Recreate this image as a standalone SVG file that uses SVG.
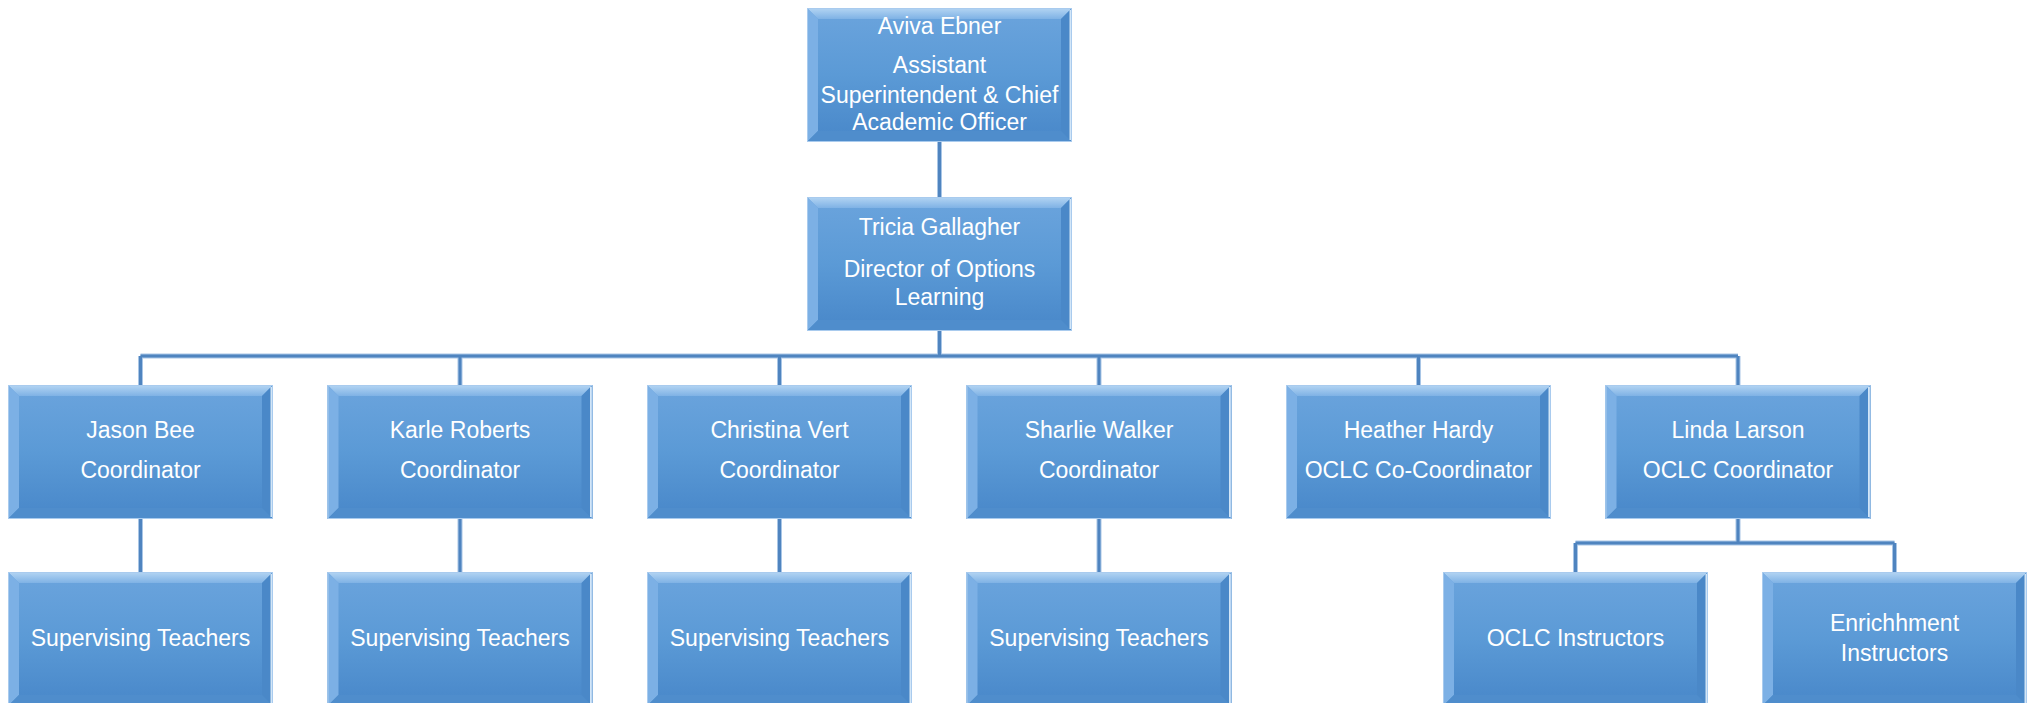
<svg xmlns="http://www.w3.org/2000/svg" xmlns:xlink="http://www.w3.org/1999/xlink" width="2034" height="703" viewBox="0 0 2034 703">
<style>
text{font-family:"Liberation Sans",Arial,sans-serif;font-size:23px;fill:#ffffff;text-anchor:middle}
.c1{stroke:#a9c6e6;stroke-width:5;fill:none}
.c2{stroke:#4f84bf;stroke-width:3;fill:none}
</style>
<defs>
<linearGradient id="body" x1="0" y1="0" x2="0" y2="1">
<stop offset="0" stop-color="#6ba4dd"/>
<stop offset="0.5" stop-color="#5b9ad6"/>
<stop offset="1" stop-color="#4887c9"/>
</linearGradient>
<linearGradient id="topb" x1="0" y1="0" x2="0" y2="1">
<stop offset="0" stop-color="#b4d5f3"/>
<stop offset="1" stop-color="#7fb2e5"/>
</linearGradient>
<g id="box">
<rect x="0" y="0" width="265" height="134" fill="url(#body)"/>
<polygon points="0,0 265,0 254,11 11,11" fill="url(#topb)"/>
<polygon points="0,0 11,11 11,123 0,134" fill="#7cb0e5"/>
<polygon points="265,0 265,134 254,123 254,11" fill="#4a88c8"/>
<polygon points="0,134 265,134 254,123 11,123" fill="#4f8dcc"/>
<line x1="263.5" y1="2" x2="263.5" y2="132" stroke="#d3e6f7" stroke-width="2"/>
<rect x="0.5" y="0.5" width="264" height="133" fill="none" stroke="#a9cbee" stroke-width="1"/>
</g>
</defs>
<rect width="2034" height="703" fill="#ffffff"/>
<g id="connectors">
<path class="c1" d="M939.5,142V197M939.5,328V356M140.5,356H1738M140.5,356V385M460,356V385M779.5,356V385M1099,356V385M1418.5,356V385M1738,356V385M140.5,516V572M460,516V572M779.5,516V572M1099,516V572M1738,516V543M1575.5,543H1894.5M1575.5,543V572M1894.5,543V572"/>
<path class="c2" d="M939.5,142V197M939.5,328V356M140.5,356H1738M140.5,356V385M460,356V385M779.5,356V385M1099,356V385M1418.5,356V385M1738,356V385M140.5,516V572M460,516V572M779.5,516V572M1099,516V572M1738,516V543M1575.5,543H1894.5M1575.5,543V572M1894.5,543V572"/>
</g>
<g id="aviva" transform="translate(807,8)">
<use xlink:href="#box"/>
<text x="132.5" y="26">Aviva Ebner</text>
<text x="132.5" y="65">Assistant</text>
<text x="132.5" y="95">Superintendent &amp; Chief</text>
<text x="132.5" y="122">Academic Officer</text>
</g>
<g id="tricia" transform="translate(807,197)">
<use xlink:href="#box"/>
<text x="132.5" y="38">Tricia Gallagher</text>
<text x="132.5" y="80">Director of Options</text>
<text x="132.5" y="108">Learning</text>
</g>
<g id="jason" transform="translate(8,385)">
<use xlink:href="#box"/>
<text x="132.5" y="53">Jason Bee</text>
<text x="132.5" y="93">Coordinator</text>
</g>
<g id="karle" transform="translate(327.5,385)">
<use xlink:href="#box"/>
<text x="132.5" y="53">Karle Roberts</text>
<text x="132.5" y="93">Coordinator</text>
</g>
<g id="christina" transform="translate(647,385)">
<use xlink:href="#box"/>
<text x="132.5" y="53">Christina Vert</text>
<text x="132.5" y="93">Coordinator</text>
</g>
<g id="sharlie" transform="translate(966.5,385)">
<use xlink:href="#box"/>
<text x="132.5" y="53">Sharlie Walker</text>
<text x="132.5" y="93">Coordinator</text>
</g>
<g id="heather" transform="translate(1286,385)">
<use xlink:href="#box"/>
<text x="132.5" y="53">Heather Hardy</text>
<text x="132.5" y="93">OCLC Co-Coordinator</text>
</g>
<g id="linda" transform="translate(1605.5,385)">
<use xlink:href="#box"/>
<text x="132.5" y="53">Linda Larson</text>
<text x="132.5" y="93">OCLC Coordinator</text>
</g>
<g id="st1" transform="translate(8,572)">
<use xlink:href="#box"/>
<text x="132.5" y="74">Supervising Teachers</text>
</g>
<g id="st2" transform="translate(327.5,572)">
<use xlink:href="#box"/>
<text x="132.5" y="74">Supervising Teachers</text>
</g>
<g id="st3" transform="translate(647,572)">
<use xlink:href="#box"/>
<text x="132.5" y="74">Supervising Teachers</text>
</g>
<g id="st4" transform="translate(966.5,572)">
<use xlink:href="#box"/>
<text x="132.5" y="74">Supervising Teachers</text>
</g>
<g id="oclc" transform="translate(1443,572)">
<use xlink:href="#box"/>
<text x="132.5" y="74">OCLC Instructors</text>
</g>
<g id="enrich" transform="translate(1762,572)">
<use xlink:href="#box"/>
<text x="132.5" y="59">Enrichhment</text>
<text x="132.5" y="89">Instructors</text>
</g>
</svg>
